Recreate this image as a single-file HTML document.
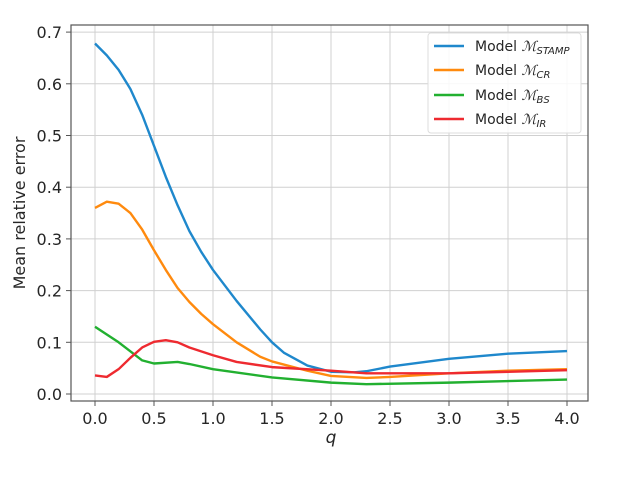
<!DOCTYPE html>
<html><head><meta charset="utf-8"><style>
body{margin:0;background:#fff;}
svg text{font-family:"DejaVu Sans","Liberation Sans",sans-serif;fill:#262626;}
</style></head><body>
<svg id="s" width="624" height="474" xmlns="http://www.w3.org/2000/svg">
<rect width="624" height="474" fill="#fff"/>
<g id="grid" stroke="#d0d0d0" stroke-width="1"></g>
<g id="ticks" font-size="16"></g>
<g id="lines" fill="none" stroke-width="2.4" stroke-linejoin="round"></g>
<rect x="71" y="25" width="517" height="376" fill="none" stroke="#555" stroke-width="1.2"/>
<text x="25" y="213" font-size="16" text-anchor="middle" transform="rotate(-90 25 213)">Mean relative error</text>
<text x="331" y="443" font-size="17" font-style="italic" text-anchor="middle">q</text>
<rect x="428" y="33" width="153" height="100" rx="3" fill="#fff" fill-opacity="0.85" stroke="#ddd"/>
<g font-size="14">
<line x1="434" y1="46" x2="464" y2="46" stroke="#1f88cc" stroke-width="2.4"/><text x="475" y="51">Model <tspan font-style="italic" font-family="Liberation Serif,serif">ℳ</tspan><tspan font-size="10" font-style="italic" dy="3">STAMP</tspan></text>
<line x1="434" y1="70" x2="464" y2="70" stroke="#ff8a0e" stroke-width="2.4"/><text x="475" y="75">Model <tspan font-style="italic" font-family="Liberation Serif,serif">ℳ</tspan><tspan font-size="10" font-style="italic" dy="3">CR</tspan></text>
<line x1="434" y1="95" x2="464" y2="95" stroke="#22b030" stroke-width="2.4"/><text x="475" y="100">Model <tspan font-style="italic" font-family="Liberation Serif,serif">ℳ</tspan><tspan font-size="10" font-style="italic" dy="3">BS</tspan></text>
<line x1="434" y1="119" x2="464" y2="119" stroke="#ee2a30" stroke-width="2.4"/><text x="475" y="124">Model <tspan font-style="italic" font-family="Liberation Serif,serif">ℳ</tspan><tspan font-size="10" font-style="italic" dy="3">IR</tspan></text>
</g>
</svg>
<script>
var NS="http://www.w3.org/2000/svg";
function X(q){return 95+118*q;} function Y(v){return 394-517*v;}
function el(p,t,a,txt){var e=document.createElementNS(NS,t);for(var k in a)e.setAttribute(k,a[k]);if(txt!=null)e.textContent=txt;document.getElementById(p).appendChild(e);}
for(var i=0;i<=8;i++){var q=i*0.5,x=X(q);el("grid","line",{x1:x,y1:25,x2:x,y2:401});
el("ticks","line",{x1:x,y1:401,x2:x,y2:406,stroke:"#555"});
el("ticks","text",{x:x,y:424,"text-anchor":"middle"},q.toFixed(1));}
for(var i=0;i<=7;i++){var v=i/10,y=Y(v);el("grid","line",{x1:71,y1:y,x2:588,y2:y});
el("ticks","line",{x1:66,y1:y,x2:71,y2:y,stroke:"#555"});
el("ticks","text",{x:62,y:y+6,"text-anchor":"end"},v.toFixed(1));}
var D={
"#1f88cc":[[0,.678],[.1,.655],[.2,.627],[.3,.59],[.4,.54],[.5,.48],[.6,.42],[.7,.365],[.8,.315],[.9,.275],[1,.24],[1.2,.18],[1.4,.125],[1.5,.1],[1.6,.08],[1.8,.055],[2,.043],[2.2,.042],[2.3,.044],[2.5,.053],[3,.068],[3.5,.078],[4,.083]],
"#ff8a0e":[[0,.36],[.1,.372],[.2,.368],[.3,.35],[.4,.318],[.5,.278],[.6,.24],[.7,.205],[.8,.178],[.9,.155],[1,.135],[1.2,.1],[1.4,.072],[1.5,.063],[1.8,.045],[2,.035],[2.3,.031],[2.5,.033],[3,.04],[3.5,.045],[4,.048]],
"#22b030":[[0,.13],[.2,.1],[.4,.065],[.5,.059],[.7,.062],[.8,.058],[1,.048],[1.5,.032],[2,.022],[2.3,.019],[3,.022],[4,.028]],
"#ee2a30":[[0,.036],[.1,.033],[.2,.048],[.3,.07],[.4,.09],[.5,.101],[.6,.104],[.7,.1],[.8,.09],[1,.075],[1.2,.062],[1.5,.052],[2,.045],[2.3,.04],[3,.04],[4,.046]]};
for(var c in D){el("lines","polyline",{stroke:c,points:D[c].map(function(p){return X(p[0])+","+Y(p[1]);}).join(" ")});}
</script>
</body></html>
